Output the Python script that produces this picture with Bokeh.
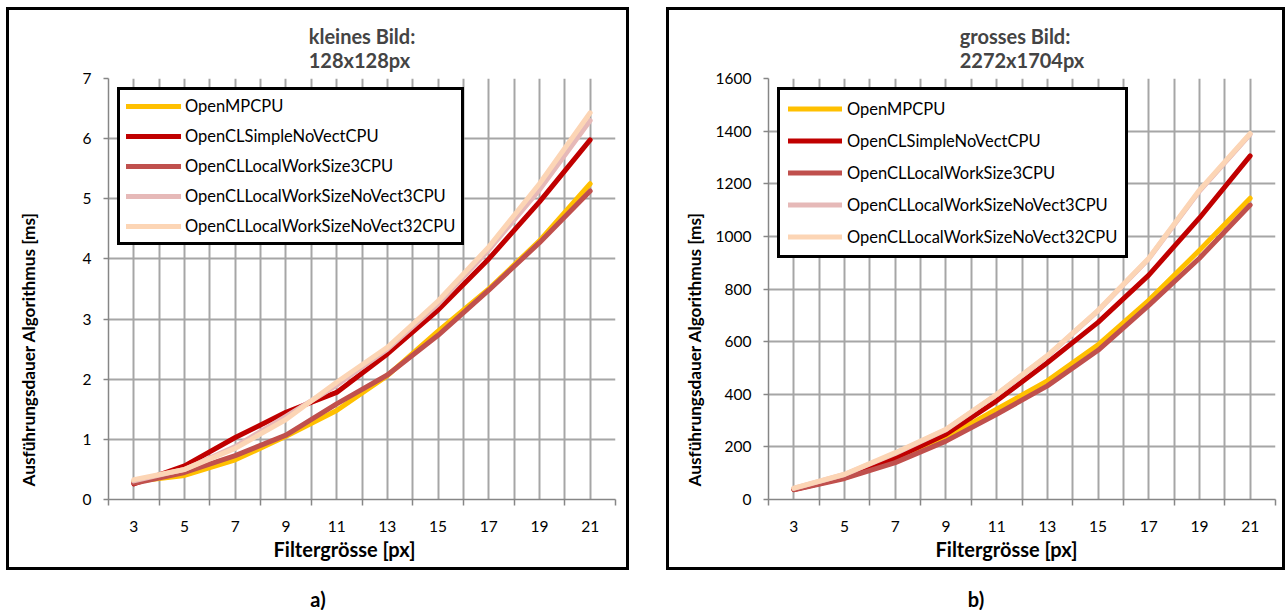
from bokeh.plotting import figure
from bokeh.models import FixedTicker, Legend, LegendItem, Label, Range1d, Spacer, LinearAxis, Title
from bokeh.layouts import row, column
from bokeh.embed import file_html
from bokeh.resources import INLINE

FONT = "Lato"

# ---------------- data ----------------
filter_sizes = [3, 5, 7, 9, 11, 13, 15, 17, 19, 21]
series_names = ["OpenMPCPU", "OpenCLSimpleNoVectCPU", "OpenCLLocalWorkSize3CPU",
                "OpenCLLocalWorkSizeNoVect3CPU", "OpenCLLocalWorkSizeNoVect32CPU"]
series_colors = ["#FFC000", "#C00000", "#C0504D", "#E6B9B8", "#FCD5B5"]

small_openmp = [0.30, 0.40, 0.66, 1.05, 1.48, 2.06, 2.80, 3.50, 4.30, 5.25]
small_simple_novect = [0.26, 0.56, 1.03, 1.45, 1.78, 2.42, 3.15, 4.00, 4.95, 5.98]
small_lws3 = [0.27, 0.45, 0.73, 1.07, 1.59, 2.07, 2.73, 3.48, 4.27, 5.13]
small_lws_novect3 = [0.31, 0.50, 0.88, 1.38, 1.90, 2.50, 3.25, 4.15, 5.15, 6.30]
small_lws_novect32 = [0.33, 0.50, 0.85, 1.33, 1.95, 2.53, 3.30, 4.20, 5.25, 6.43]

big_openmp = [40, 82, 150, 235, 343, 451, 588, 757, 947, 1145]
big_simple_novect = [38, 83, 158, 248, 375, 520, 673, 853, 1070, 1306]
big_lws3 = [37, 80, 140, 222, 324, 432, 567, 738, 917, 1119]
big_lws_novect3 = [42, 95, 175, 265, 398, 545, 717, 915, 1172, 1388]
big_lws_novect32 = [43, 96, 178, 267, 400, 547, 719, 917, 1176, 1391]

small_y_ticks = [0, 1, 2, 3, 4, 5, 6, 7]
big_y_ticks = [0, 200, 400, 600, 800, 1000, 1200, 1400, 1600]

x_title = "Filtergrösse [px]"
y_title = "Ausführungsdauer Algorithmus [ms]"

GRID = "#A6A6A6"
AXIS = "#868686"


def make_panel(width, title, y_ticks, series, legend_cfg, ygap, xtitle_offset):
    frame_left = 99
    frame_w = 507
    canvas_w = width + 6
    canvas_h = 563
    x0, x1 = filter_sizes[0] - 1, filter_sizes[-1] + 1
    y0, y1 = y_ticks[0], y_ticks[-1]
    p = figure(width=width, height=557, output_backend="svg", toolbar_location=None,
               x_range=Range1d(x0, x1), y_range=Range1d(y0, y1),
               min_border_left=frame_left, min_border_right=canvas_w - frame_left - frame_w,
               min_border_top=68, min_border_bottom=canvas_h - 68 - 421, title=title,
               styles={"border": "3px solid black", "box-sizing": "content-box"})
    p.outline_line_color = None
    p.background_fill_color = "white"
    p.border_fill_color = "white"

    p.title.align = "center"
    p.title.text_font = FONT
    p.title.text_font_size = "20px"
    p.title.text_font_style = "bold"
    p.title.standoff = 14

    bounds = [v - 1 for v in filter_sizes] + [filter_sizes[-1] + 1]
    xt = FixedTicker(ticks=filter_sizes, minor_ticks=bounds)
    yt = FixedTicker(ticks=y_ticks, minor_ticks=[])

    xa = p.xaxis[0]
    xa.ticker = xt
    xa.major_tick_out = 0
    xa.major_tick_in = 0
    xa.minor_tick_out = 6
    xa.minor_tick_in = 0
    xa.minor_tick_line_color = AXIS
    xa.minor_tick_line_width = 1.5
    xa.axis_line_color = AXIS
    xa.axis_line_width = 1.5
    xa.major_label_text_font = FONT
    xa.major_label_text_font_size = "15.5px"
    xa.major_label_text_color = "black"
    xa.major_label_standoff = 15

    ya = p.yaxis[0]
    ya.ticker = yt
    ya.major_tick_out = 5
    ya.major_tick_in = 0
    ya.minor_tick_out = 0
    ya.minor_tick_in = 0
    ya.major_tick_line_color = AXIS
    ya.major_tick_line_width = 1.5
    ya.axis_line_color = AXIS
    ya.axis_line_width = 1.5
    ya.major_label_text_font = FONT
    ya.major_label_text_font_size = "15.5px"
    ya.major_label_text_color = "black"
    ya.major_label_standoff = 12

    # blank axis (white tick, no label, no line) used only as a gap before the y title
    gap = LinearAxis(ticker=FixedTicker(ticks=[y0], minor_ticks=[]), axis_line_color=None,
                     major_tick_line_color="white", minor_tick_line_color=None,
                     major_tick_out=ygap, minor_tick_out=0, major_tick_in=0, minor_tick_in=0,
                     major_label_standoff=0, major_label_overrides={y0: ""},
                     major_label_text_color=None, major_label_text_font_size="1px")
    p.add_layout(gap, "left")

    # axis titles
    p.add_layout(Title(text=y_title, align="left", offset=13, standoff=2,
                       text_font=FONT, text_font_size="17.2px", text_font_style="bold",
                       text_color="black"), "left")
    p.add_layout(Title(text=x_title, align="left", offset=xtitle_offset, standoff=0,
                       text_font=FONT, text_font_size="20px", text_font_style="bold",
                       text_color="black"), "below")

    p.xgrid.ticker = xt
    p.xgrid.grid_line_color = GRID
    p.xgrid.grid_line_width = 2
    p.xgrid.minor_grid_line_color = GRID
    p.xgrid.minor_grid_line_width = 2
    p.ygrid.ticker = yt
    p.ygrid.grid_line_color = GRID
    p.ygrid.grid_line_width = 2

    items = []
    for name, color, vals in zip(series_names, series_colors, series):
        r = p.line(filter_sizes, vals, line_color=color, line_width=5,
                   line_join="round", line_cap="round")
        items.append(LegendItem(label=name, renderers=[r]))

    leg = Legend(items=items, location="top_left",
                 margin=legend_cfg["margin"], padding=legend_cfg["padding"],
                 spacing=legend_cfg["spacing"], glyph_width=legend_cfg["glyph_width"],
                 glyph_height=legend_cfg["row_h"], label_height=legend_cfg["row_h"],
                 label_standoff=legend_cfg["standoff"],
                 label_text_font=FONT, label_text_font_size="16.5px",
                 label_text_color="black",
                 border_line_color="black", border_line_width=3, border_line_alpha=1.0,
                 background_fill_color="white", background_fill_alpha=1.0)
    p.add_layout(leg)
    return p


def make_caption(width, text):
    c = figure(width=width, height=40, output_backend="svg", toolbar_location=None,
               x_range=Range1d(0, 1), y_range=Range1d(0, 1),
               min_border=0, x_axis_type=None, y_axis_type=None)
    c.outline_line_color = None
    c.xgrid.visible = False
    c.ygrid.visible = False
    c.add_layout(Label(x=0.5, y=0.3, text=text, text_align="center", text_baseline="middle",
                       text_font=FONT, text_font_size="20px", text_font_style="bold",
                       text_color="black"))
    return c


left = make_panel(617, "kleines Bild:\n128x128px", small_y_ticks,
                  [small_openmp, small_simple_novect, small_lws3, small_lws_novect3, small_lws_novect32],
                  dict(margin=9, padding=6, spacing=10, glyph_width=55, row_h=20, standoff=4),
                  40, 165)
right = make_panel(613, "grosses Bild:\n2272x1704px", big_y_ticks,
                   [big_openmp, big_simple_novect, big_lws3, big_lws_novect3, big_lws_novect32],
                   dict(margin=9, padding=8, spacing=11, glyph_width=54, row_h=21, standoff=5),
                   7, 167)

cap_a = make_caption(623, "a)")
cap_b = make_caption(619, "b)")

layout = column(
    Spacer(width=1288, height=7),
    row(Spacer(width=6, height=563), left, Spacer(width=37, height=563), right),
    row(Spacer(width=6, height=40), cap_a, Spacer(width=37, height=40), cap_b),
)
open("out.html", "w").write(file_html(layout, INLINE))
